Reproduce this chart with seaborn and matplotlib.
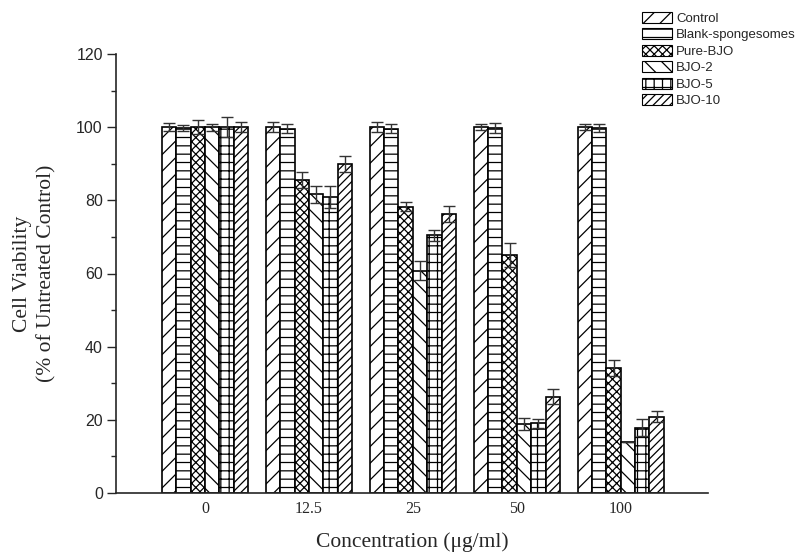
import matplotlib
matplotlib.use("Agg")
import matplotlib.pyplot as plt
import seaborn as sns
import pandas as pd
import numpy as np
from matplotlib.patches import Patch
from matplotlib.ticker import MultipleLocator

concentrations = ["0", "12.5", "25", "50", "100"]
series = ["Control", "Blank-spongesomes", "Pure-BJO", "BJO-2", "BJO-5", "BJO-10"]
values = {
    "Control":           [100.0, 100.0, 100.0, 100.0, 100.0],
    "Blank-spongesomes": [99.8, 99.6, 99.6, 99.8, 99.8],
    "Pure-BJO":          [100.0, 85.6, 78.3, 65.0, 34.2],
    "BJO-2":             [100.0, 81.6, 60.8, 18.9, 14.0],
    "BJO-5":             [100.0, 80.8, 70.4, 19.1, 17.9],
    "BJO-10":            [100.0, 89.9, 76.3, 26.3, 20.8],
}
errors = {
    "Control":           [1.1, 1.3, 1.3, 0.8, 0.8],
    "Blank-spongesomes": [0.8, 1.2, 1.3, 1.3, 1.0],
    "Pure-BJO":          [2.0, 2.2, 1.2, 3.3, 2.2],
    "BJO-2":             [1.0, 2.3, 2.5, 1.6, 0.0],
    "BJO-5":             [2.7, 3.0, 1.5, 1.2, 2.3],
    "BJO-10":            [1.3, 2.2, 2.1, 2.0, 1.5],
}
hatches = ["//", "--", "xxxx", "\\\\", "++", "////"]

rows = []
for s in series:
    for c, v in zip(concentrations, values[s]):
        rows.append({"Concentration": c, "Series": s, "Viability": v})
df = pd.DataFrame(rows)

sns.set_style("ticks")
plt.rcParams["hatch.linewidth"] = 0.9
plt.rcParams["hatch.color"] = "black"

fig = plt.figure(figsize=(7.96, 5.54), dpi=100)
ax = fig.add_axes([116/796, 1-493/554, (708-116)/796, (493-54)/554])

palette = {s: "white" for s in series}
sns.barplot(data=df, x="Concentration", y="Viability", hue="Series",
            order=concentrations, hue_order=series, palette=palette,
            errorbar=None, width=0.83, gap=0, ax=ax, legend=False,
            edgecolor="black", linewidth=1.2, saturation=1)

for cont, h, s in zip(ax.containers, hatches, series):
    xs, ys = [], []
    for p in cont.patches:
        p.set_hatch(h)
        p.set_edgecolor("black")
        xs.append(p.get_x() + p.get_width()/2)
        ys.append(p.get_height())
    ax.errorbar(xs, ys, yerr=errors[s], fmt="none", ecolor="#333333",
                elinewidth=1.0, capsize=4, capthick=1.0, zorder=5)

ax.set_ylim(0, 120)
ax.set_xlim(-0.856, 4.84)
ax.yaxis.set_major_locator(MultipleLocator(20))
ax.yaxis.set_minor_locator(MultipleLocator(10))
ax.tick_params(axis="y", which="major", length=6.5, width=1, direction="out",
               labelsize=11.5, pad=3)
ax.tick_params(axis="y", which="minor", length=3.6, width=1, direction="out")
ax.tick_params(axis="x", length=0, pad=6)
for lab in ax.get_yticklabels():
    lab.set_fontfamily("Liberation Sans")
for lab in ax.get_xticklabels():
    lab.set_fontfamily("Liberation Serif")
    lab.set_fontsize(11.5)

ax.set_xlabel("Concentration (μg/ml)", fontfamily="Liberation Serif",
              fontsize=15.5, labelpad=11)
ax.set_ylabel("Cell Viability\n(% of Untreated Control)",
              fontfamily="Liberation Serif", fontsize=15.5, labelpad=14,
              linespacing=1.35)
sns.despine(ax=ax)
for sp in ["left", "bottom"]:
    ax.spines[sp].set_linewidth(1.2)

handles = [Patch(facecolor="white", edgecolor="black", hatch=h, linewidth=0.8, label=s)
           for s, h in zip(series, hatches)]
fig.legend(handles=handles, loc="upper left", bbox_to_anchor=(642/796, 1-12/554),
           frameon=False, prop={"family": "Liberation Sans", "size": 9.5},
           handlelength=2.3, handleheight=0.9, labelspacing=0.26,
           handletextpad=0.3, borderpad=0.0, borderaxespad=0)

fig.savefig("out.png", dpi=100)
